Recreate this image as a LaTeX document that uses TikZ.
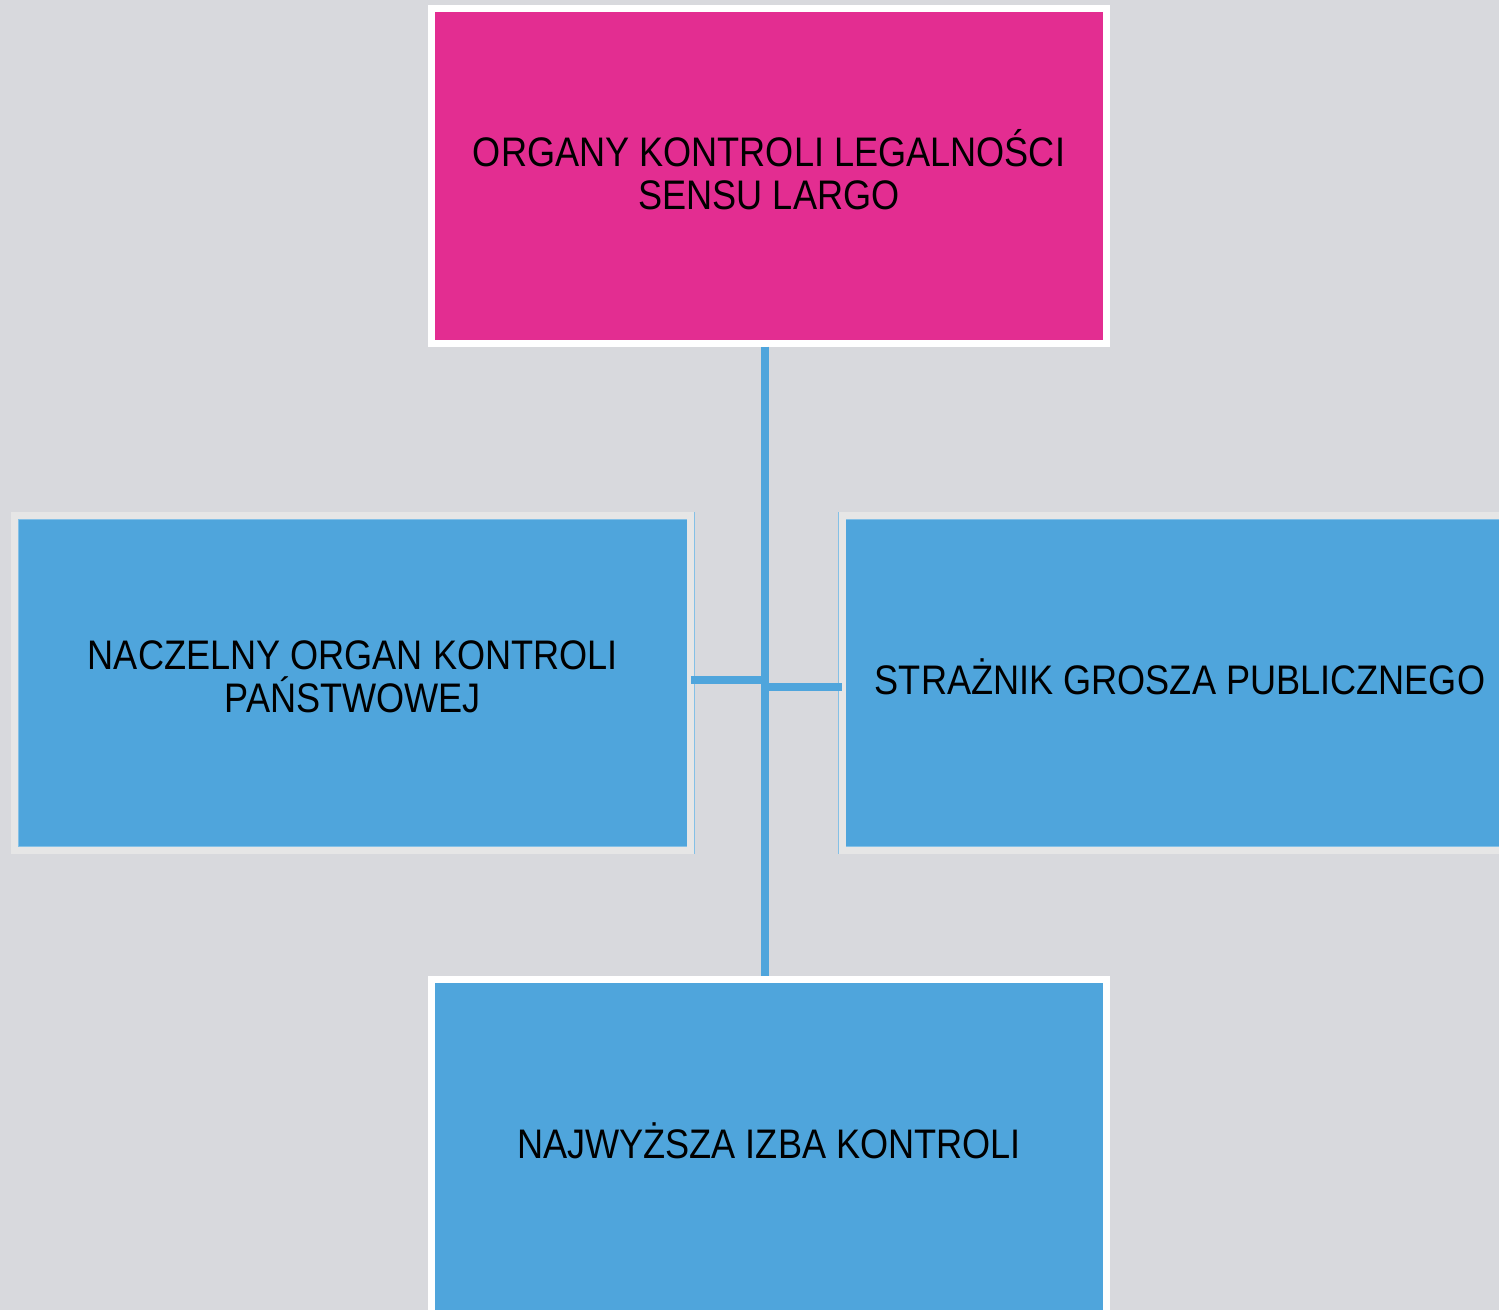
\documentclass[tikz,border=0pt]{standalone}
\usepackage{fontspec}
\setmainfont[FakeStretch=0.875]{Liberation Sans}
\definecolor{bgray}{HTML}{D8D9DD}
\definecolor{magent}{HTML}{E32D91}
\definecolor{skyb}{HTML}{4FA5DC}
\definecolor{rimgray}{HTML}{E6E6E6}
\tikzset{
  orgbox/.style={rectangle,minimum width=13.52cm,minimum height=6.69cm,
    inner sep=0pt,align=center,text depth=7pt,
    font=\fontsize{23.5}{24.6}\selectfont},
  headbox/.style={orgbox,fill=magent,draw=white,line width=0.14cm},
  whitebox/.style={orgbox,fill=skyb,draw=white,line width=0.14cm},
  rimbox/.style={orgbox,fill=skyb,draw=skyb!70,line width=0.01cm,
    double=rimgray,double distance=0.14cm},
  link/.style={draw=skyb,line width=0.15cm}
}
\begin{document}
\begin{tikzpicture}[x=0.02cm,y=-0.02cm]
\useasboundingbox (0,0) rectangle (1499,1310);
\clip (0,0) rectangle (1499,1310);
\fill[bgray] (0,0) rectangle (1499,1310);
%boxes
\node[headbox] (head) at (769,175.8) {ORGANY KONTROLI LEGALNOŚCI\\SENSU LARGO};
\node[rimbox] (naczelny) at (352.8,682.8) {NACZELNY ORGAN KONTROLI\\PAŃSTWOWEJ};
\node[rimbox] (straznik) at (1180,683) {STRAŻNIK GROSZA PUBLICZNEGO};
\node[whitebox] (nik) at (769,1146.8) {NAJWYŻSZA IZBA KONTROLI};
%links
\coordinate (spine) at (765,0);
\coordinate (jl) at (765,680);
\coordinate (jr) at (765,687);
\draw[link] (head.south -| spine) -- (nik.north -| spine);
\draw[link] (naczelny.east |- jl) -- (jl);
\draw[link] (straznik.west |- jr) -- (jr);
\end{tikzpicture}
\end{document}
